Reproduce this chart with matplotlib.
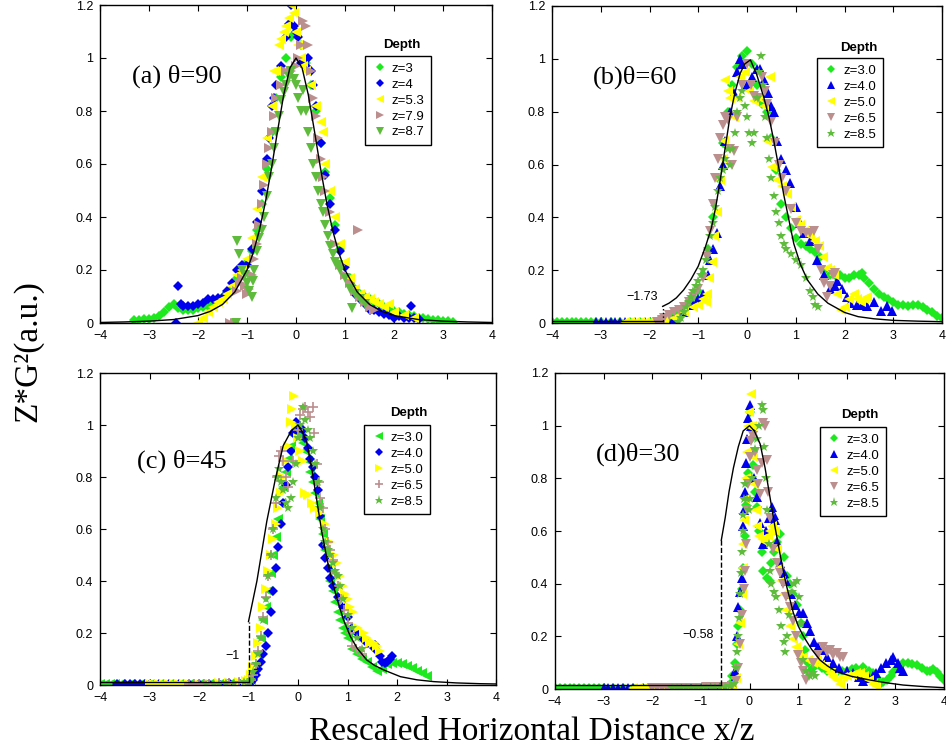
import matplotlib
matplotlib.use("Agg")
import matplotlib.pyplot as plt

plt.rcParams['font.family'] = ['Liberation Sans', 'DejaVu Sans']

# ---------------- ticks / labels ----------------
x_ticks = [-4, -3, -2, -1, 0, 1, 2, 3, 4]
x_tick_labels = ["\u22124", "\u22123", "\u22122", "\u22121", "0", "1", "2", "3", "4"]
y_ticks = [0, 0.2, 0.4, 0.6, 0.8, 1.0, 1.2]
y_tick_labels = ["0", "0.2", "0.4", "0.6", "0.8", "1", "1.2"]

panel_titles = ["(a) \u03b8=90", "(b)\u03b8=60", "(c) \u03b8=45", "(d)\u03b8=30"]
legend_a = ["z=3", "z=4", "z=5.3", "z=7.9", "z=8.7"]
legend_bcd = ["z=3.0", "z=4.0", "z=5.0", "z=6.5", "z=8.5"]
x_label = "Rescaled Horizontal Distance x/z"
y_label = "Z*G\u00b2(a.u.)"

# ---------------- model curves (x, y) ----------------
a_curve = [(-4, 0.002), (-3.5, 0.004), (-3, 0.007), (-2.5, 0.013), (-2, 0.028), (-1.75, 0.044),
           (-1.5, 0.07), (-1.25, 0.117), (-1, 0.2), (-0.875, 0.264), (-0.75, 0.348), (-0.625, 0.455),
           (-0.5, 0.584), (-0.375, 0.726), (-0.25, 0.862), (-0.125, 0.962), (0, 1.0), (0.125, 0.962),
           (0.25, 0.862), (0.375, 0.726), (0.5, 0.584), (0.625, 0.455), (0.75, 0.348), (0.875, 0.264),
           (1, 0.2), (1.25, 0.117), (1.5, 0.07), (1.75, 0.044), (2, 0.028), (2.5, 0.013), (3, 0.007),
           (3.5, 0.004), (4, 0.002)]
b_curve = [(-1.73, 0.063), (-1.6, 0.075), (-1.45, 0.095), (-1.3, 0.125), (-1.15, 0.165), (-1.0, 0.215),
           (-0.85, 0.29), (-0.73, 0.36), (-0.64, 0.44), (-0.55, 0.54), (-0.45, 0.66), (-0.35, 0.78),
           (-0.25, 0.87), (-0.14, 0.945), (-0.05, 0.98), (0.07, 0.996), (0.2, 0.94), (0.34, 0.857),
           (0.45, 0.78), (0.55, 0.69), (0.65, 0.59), (0.76, 0.48), (0.86, 0.39), (0.96, 0.30), (1.1, 0.22),
           (1.24, 0.163), (1.45, 0.11), (1.66, 0.075), (2.0, 0.04), (2.28, 0.024), (2.6, 0.016),
           (3.0, 0.01), (3.5, 0.007), (4.0, 0.005)]
c_curve = [(-1.0, 0.244), (-0.83, 0.4), (-0.63, 0.63), (-0.46, 0.79), (-0.3, 0.92), (-0.13, 0.98),
           (0.0, 1.0), (0.1, 0.97), (0.18, 0.93), (0.28, 0.83), (0.38, 0.71), (0.48, 0.59), (0.59, 0.48),
           (0.69, 0.4), (0.79, 0.33), (0.92, 0.25), (1.06, 0.186), (1.2, 0.14), (1.39, 0.096),
           (1.55, 0.075), (1.73, 0.058), (2.07, 0.032), (2.4, 0.02), (2.74, 0.013), (3.2, 0.008),
           (3.68, 0.005), (4.0, 0.004)]
d_curve = [(-0.58, 0.565), (-0.5, 0.65), (-0.42, 0.75), (-0.33, 0.84), (-0.23, 0.92), (-0.13, 0.98),
           (0.0, 1.0), (0.1, 0.98), (0.22, 0.93), (0.32, 0.84), (0.42, 0.73), (0.52, 0.62), (0.63, 0.51),
           (0.75, 0.4), (0.9, 0.29), (1.0, 0.24), (1.11, 0.2), (1.28, 0.15), (1.45, 0.11), (1.6, 0.088),
           (1.79, 0.066), (2.1, 0.048), (2.48, 0.034), (2.8, 0.024), (3.16, 0.015), (3.6, 0.009),
           (4.0, 0.005)]

# baselines left of the cutoff, and cutoff values: (x, y_bottom, y_top)
b_base = [(-4, 0.008), (-1.73, 0.008)]
c_base = [(-4, 0.01), (-1.0, 0.01)]
d_base = [(-4, 0.015), (-0.58, 0.015)]
b_cut = (-1.73, 0.008, 0.063)
c_cut = (-1.0, 0.01, 0.244)
d_cut = (-0.58, 0.015, 0.565)
cut_labels = ["\u22121.73", "\u22121", "\u22120.58"]

# ---------------- panel (a) data ----------------
a_z3 = [(-3.3, 0.01), (-3.2, 0.01), (-3.1, 0.015), (-3.0, 0.015), (-2.9, 0.02), (-2.8, 0.025), (-2.7, 0.04),
        (-2.6, 0.06), (-2.5, 0.07), (-2.4, 0.055), (-2.3, 0.05), (-2.2, 0.05), (-2.1, 0.05), (-2.0, 0.055),
        (-1.9, 0.06), (-1.8, 0.065), (-1.7, 0.08), (-1.6, 0.09), (-1.5, 0.1), (-1.4, 0.11), (-1.3, 0.13),
        (-1.2, 0.17), (-1.1, 0.21), (-1.0, 0.23), (-0.9, 0.27), (-0.8, 0.35), (-0.7, 0.45), (-0.6, 0.58),
        (-0.5, 0.72), (-0.4, 0.85), (-0.3, 0.93), (-0.2, 1.0), (-0.1, 1.08), (0.0, 1.1), (0.1, 1.05),
        (0.2, 0.98), (0.3, 0.9), (0.4, 0.8), (0.5, 0.68), (0.6, 0.57), (0.7, 0.47), (0.8, 0.37), (0.9, 0.28),
        (1.0, 0.22), (1.1, 0.17), (1.2, 0.13), (1.3, 0.11), (1.4, 0.1), (1.5, 0.09), (1.6, 0.08), (1.7, 0.07),
        (1.8, 0.06), (1.9, 0.05), (2.0, 0.045), (2.1, 0.04), (2.2, 0.035), (2.3, 0.03), (2.4, 0.025),
        (2.5, 0.02), (2.6, 0.02), (2.7, 0.015), (2.8, 0.012), (2.9, 0.01), (3.0, 0.008), (3.1, 0.006),
        (3.2, 0.005)]
a_z4 = [(-2.45, 0.0), (-2.4, 0.14), (-2.35, 0.07), (-2.3, 0.065), (-2.2, 0.065), (-2.1, 0.065), (-2.0, 0.07),
        (-1.9, 0.075), (-1.8, 0.09), (-1.7, 0.09), (-1.6, 0.095), (-1.5, 0.1), (-1.4, 0.12), (-1.3, 0.15),
        (-1.2, 0.2), (-1.1, 0.22), (-1.0, 0.22), (-0.9, 0.28), (-0.8, 0.38), (-0.7, 0.5), (-0.6, 0.62),
        (-0.55, 0.7), (-0.5, 0.82), (-0.45, 0.85), (-0.4, 0.9), (-0.3, 0.97), (-0.2, 1.08), (-0.15, 1.13),
        (-0.1, 1.2), (-0.05, 1.12), (0.0, 1.1), (0.05, 1.08), (0.1, 0.98), (0.2, 0.97), (0.25, 1.0),
        (0.3, 0.95), (0.35, 0.9), (0.4, 0.82), (0.5, 0.68), (0.6, 0.56), (0.7, 0.45), (0.8, 0.35), (0.9, 0.27),
        (1.0, 0.21), (1.1, 0.15), (1.2, 0.11), (1.3, 0.09), (1.4, 0.07), (1.5, 0.05), (1.6, 0.05), (1.7, 0.04),
        (1.8, 0.035), (1.9, 0.03), (2.0, 0.02), (2.1, 0.025), (2.2, 0.02), (2.3, 0.02), (2.35, 0.064),
        (2.4, 0.02), (2.5, 0.015)]
a_z53 = [(-2.0, 0.0), (-1.9, 0.02), (-1.8, 0.04), (-1.7, 0.06), (-1.6, 0.08), (-1.5, 0.09), (-1.4, 0.11),
         (-1.3, 0.14), (-1.2, 0.18), (-1.1, 0.2), (-1.0, 0.24), (-0.9, 0.32), (-0.8, 0.43), (-0.7, 0.55),
         (-0.6, 0.7), (-0.5, 0.82), (-0.45, 0.95), (-0.4, 0.95), (-0.35, 1.05), (-0.3, 1.07), (-0.25, 1.1),
         (-0.2, 1.12), (-0.15, 1.15), (-0.1, 1.2), (-0.05, 1.17), (0.0, 1.1), (0.05, 1.05), (0.1, 1.0),
         (0.15, 0.97), (0.2, 0.95), (0.3, 0.9), (0.4, 0.82), (0.5, 0.76), (0.55, 0.72), (0.6, 0.6), (0.7, 0.5),
         (0.8, 0.4), (0.9, 0.3), (1.0, 0.23), (1.1, 0.17), (1.2, 0.13), (1.3, 0.11), (1.4, 0.1), (1.5, 0.09),
         (1.6, 0.08), (1.7, 0.07), (1.8, 0.06), (1.9, 0.07), (2.0, 0.04), (2.2, 0.03), (2.4, 0.02)]
a_z79 = [(-1.35, 0.0), (-1.25, 0.0), (-1.2, 0.12), (-1.15, 0.15), (-1.1, 0.17), (-1.05, 0.14), (-1.0, 0.11),
         (-0.95, 0.13), (-0.9, 0.18), (-0.85, 0.24), (-0.8, 0.3), (-0.75, 0.37), (-0.7, 0.45), (-0.65, 0.52),
         (-0.6, 0.6), (-0.55, 0.66), (-0.5, 0.72), (-0.45, 0.78), (-0.4, 0.85), (-0.3, 0.9), (-0.2, 0.95),
         (-0.1, 0.95), (0.0, 0.97), (0.05, 1.0), (0.1, 1.05), (0.15, 1.14), (0.2, 1.12), (0.25, 1.05),
         (0.3, 0.95), (0.35, 0.85), (0.4, 0.78), (0.45, 0.7), (0.5, 0.62), (0.55, 0.55), (0.6, 0.5), (0.7, 0.42),
         (0.8, 0.3), (0.9, 0.22), (1.0, 0.18), (1.1, 0.15), (1.2, 0.12), (1.27, 0.35), (1.3, 0.1), (1.4, 0.08),
         (1.5, 0.06), (1.6, 0.05)]
a_z87 = [(-1.23, 0.0), (-1.2, 0.31), (-1.17, 0.26), (-1.1, 0.2), (-1.05, 0.18), (-1.0, 0.15), (-0.95, 0.12),
         (-0.9, 0.1), (-0.87, 0.16), (-0.85, 0.2), (-0.8, 0.27), (-0.75, 0.32), (-0.7, 0.35), (-0.65, 0.4),
         (-0.6, 0.48), (-0.55, 0.55), (-0.5, 0.6), (-0.45, 0.66), (-0.4, 0.72), (-0.35, 0.78), (-0.3, 0.84),
         (-0.25, 0.87), (-0.2, 0.9), (-0.15, 0.93), (-0.1, 0.95), (-0.05, 0.92), (0.0, 0.9), (0.05, 0.85),
         (0.1, 0.8), (0.15, 0.88), (0.2, 0.8), (0.25, 0.72), (0.3, 0.66), (0.35, 0.6), (0.4, 0.55), (0.45, 0.5),
         (0.5, 0.45), (0.55, 0.42), (0.6, 0.37), (0.65, 0.33), (0.7, 0.29), (0.75, 0.26), (0.8, 0.23),
         (0.85, 0.22), (0.9, 0.2), (1.0, 0.17), (1.1, 0.13), (1.14, 0.055), (1.2, 0.11), (1.3, 0.09), (1.4, 0.07)]

# ---------------- panel (b) data ----------------
b_z3 = [(-4.0, 0.005), (-3.9, 0.005), (-3.8, 0.005), (-3.7, 0.005), (-3.6, 0.005), (-3.5, 0.005), (-3.4, 0.005),
        (-3.3, 0.005), (-3.2, 0.005), (-3.1, 0.005), (-3.0, 0.005), (-2.8, 0.005), (-2.6, 0.005), (-2.4, 0.005),
        (-2.2, 0.005), (-2.0, 0.005), (-1.8, 0.01), (-1.6, 0.02), (-1.5, 0.03), (-1.4, 0.045), (-1.3, 0.06),
        (-1.2, 0.08), (-1.1, 0.1), (-1.0, 0.12), (-0.9, 0.18), (-0.8, 0.28), (-0.7, 0.4), (-0.6, 0.55),
        (-0.5, 0.68), (-0.4, 0.8), (-0.3, 0.9), (-0.2, 0.97), (-0.1, 1.01), (0.0, 1.03), (0.1, 0.98),
        (0.2, 0.9), (0.3, 0.83), (0.4, 0.8), (0.5, 0.7), (0.6, 0.58), (0.7, 0.45), (0.8, 0.4), (0.9, 0.36),
        (1.0, 0.32), (1.1, 0.3), (1.2, 0.29), (1.3, 0.28), (1.4, 0.27), (1.5, 0.25), (1.6, 0.2), (1.7, 0.18),
        (1.8, 0.18), (1.9, 0.18), (2.0, 0.17), (2.1, 0.17), (2.2, 0.18), (2.3, 0.18), (2.35, 0.19), (2.4, 0.17),
        (2.5, 0.15), (2.6, 0.13), (2.7, 0.11), (2.8, 0.1), (2.9, 0.09), (3.0, 0.08), (3.1, 0.07), (3.2, 0.07),
        (3.3, 0.065), (3.4, 0.07), (3.5, 0.07), (3.6, 0.06), (3.7, 0.05), (3.8, 0.04), (3.9, 0.025), (4.0, 0.02)]
b_z4 = [(-3.1, 0.005), (-3.0, 0.005), (-2.9, 0.005), (-2.8, 0.005), (-2.7, 0.005), (-2.6, 0.005), (-2.5, 0.005),
        (-2.3, 0.005), (-2.1, 0.005), (-1.9, 0.005), (-1.7, 0.01), (-1.5, 0.02), (-1.3, 0.04), (-1.1, 0.07),
        (-1.0, 0.09), (-0.9, 0.11), (-0.8, 0.18), (-0.75, 0.24), (-0.7, 0.28), (-0.62, 0.34), (-0.55, 0.52),
        (-0.5, 0.6), (-0.45, 0.69), (-0.35, 0.8), (-0.27, 0.87), (-0.2, 0.95), (-0.14, 1.0), (-0.1, 0.98),
        (0.0, 0.9), (0.1, 0.93), (0.2, 0.96), (0.26, 0.96), (0.34, 0.92), (0.43, 0.87), (0.5, 0.82),
        (0.55, 0.8), (0.62, 0.69), (0.7, 0.62), (0.79, 0.58), (0.89, 0.53), (1.0, 0.44), (1.08, 0.38),
        (1.16, 0.34), (1.3, 0.31), (1.44, 0.24), (1.58, 0.18), (1.71, 0.13), (1.8, 0.14), (1.85, 0.16),
        (1.95, 0.13), (2.05, 0.1), (2.12, 0.076), (2.26, 0.07), (2.35, 0.07), (2.47, 0.063), (2.6, 0.08),
        (2.74, 0.044), (2.88, 0.063), (2.98, 0.044)]
b_z5 = [(-2.5, 0.005), (-2.4, 0.005), (-2.3, 0.005), (-2.2, 0.005), (-2.1, 0.005), (-2.0, 0.005), (-1.9, 0.005),
        (-1.7, 0.01), (-1.5, 0.02), (-1.3, 0.04), (-1.1, 0.06), (-1.0, 0.07), (-0.9, 0.09), (-0.85, 0.08),
        (-0.82, 0.11), (-0.78, 0.17), (-0.72, 0.23), (-0.67, 0.33), (-0.62, 0.42), (-0.55, 0.54), (-0.5, 0.62),
        (-0.48, 0.69), (-0.45, 0.92), (-0.4, 0.88), (-0.35, 0.85), (-0.27, 0.78), (-0.2, 0.85), (-0.14, 0.93),
        (-0.05, 0.95), (0.05, 0.88), (0.14, 0.84), (0.25, 0.85), (0.34, 0.82), (0.41, 0.69), (0.48, 0.93),
        (0.51, 0.59), (0.62, 0.54), (0.72, 0.52), (0.82, 0.49), (0.9, 0.44), (1.0, 0.39), (1.08, 0.37),
        (1.16, 0.35), (1.3, 0.33), (1.4, 0.31), (1.47, 0.29), (1.55, 0.25), (1.64, 0.21), (1.7, 0.2),
        (1.78, 0.18), (1.85, 0.11), (1.92, 0.05), (2.02, 0.06), (2.1, 0.09), (2.19, 0.11), (2.26, 0.09),
        (2.33, 0.08), (2.4, 0.09), (2.47, 0.1)]
b_z65 = [(-1.85, 0.005), (-1.8, 0.005), (-1.75, 0.01), (-1.7, 0.02), (-1.6, 0.03), (-1.5, 0.04), (-1.4, 0.05),
         (-1.3, 0.06), (-1.2, 0.08), (-1.1, 0.1), (-1.0, 0.13), (-0.9, 0.17), (-0.82, 0.25), (-0.76, 0.35),
         (-0.7, 0.45), (-0.65, 0.55), (-0.6, 0.62), (-0.55, 0.7), (-0.5, 0.75), (-0.45, 0.78), (-0.4, 0.77),
         (-0.35, 0.66), (-0.3, 0.6), (-0.27, 0.65), (-0.2, 0.78), (-0.1, 0.9), (0.0, 0.98), (0.08, 0.9),
         (0.15, 0.86), (0.22, 0.85), (0.3, 0.93), (0.36, 0.88), (0.42, 0.83), (0.5, 0.76), (0.58, 0.68),
         (0.65, 0.6), (0.72, 0.55), (0.8, 0.5), (0.9, 0.43), (1.0, 0.38), (1.1, 0.35), (1.2, 0.34), (1.3, 0.34),
         (1.37, 0.35), (1.45, 0.28), (1.52, 0.2), (1.58, 0.15), (1.64, 0.1), (1.7, 0.14), (1.76, 0.18),
         (1.81, 0.19)]
b_z85 = [(-1.41, 0.005), (-1.35, 0.02), (-1.3, 0.04), (-1.25, 0.06), (-1.2, 0.08), (-1.15, 0.1), (-1.1, 0.12),
         (-1.05, 0.14), (-1.0, 0.16), (-0.95, 0.18), (-0.9, 0.2), (-0.85, 0.24), (-0.8, 0.28), (-0.75, 0.33),
         (-0.7, 0.38), (-0.65, 0.44), (-0.6, 0.5), (-0.55, 0.55), (-0.5, 0.58), (-0.45, 0.62), (-0.4, 0.66),
         (-0.35, 0.6), (-0.3, 0.66), (-0.25, 0.72), (-0.2, 0.8), (-0.15, 0.85), (-0.1, 0.88), (-0.05, 0.82),
         (0.0, 0.78), (0.05, 0.72), (0.1, 0.68), (0.15, 0.72), (0.2, 0.85), (0.25, 0.95), (0.28, 1.01),
         (0.32, 0.9), (0.36, 0.78), (0.4, 0.7), (0.45, 0.62), (0.5, 0.55), (0.55, 0.48), (0.6, 0.42),
         (0.65, 0.38), (0.7, 0.33), (0.75, 0.3), (0.8, 0.28), (0.9, 0.26), (1.0, 0.24), (1.1, 0.22),
         (1.2, 0.17), (1.3, 0.12), (1.35, 0.1), (1.4, 0.07), (1.45, 0.06)]

# ---------------- panel (c) data ----------------
c_z3 = [(-4.0, 0.005), (-3.9, 0.005), (-3.8, 0.005), (-3.7, 0.005), (-3.6, 0.005), (-3.4, 0.005), (-3.2, 0.005),
        (-3.0, 0.005), (-2.8, 0.005), (-2.6, 0.005), (-2.4, 0.005), (-2.2, 0.005), (-2.0, 0.005), (-1.8, 0.005),
        (-1.6, 0.005), (-1.4, 0.005), (-1.2, 0.008), (-1.0, 0.01), (-0.95, 0.02), (-0.9, 0.04), (-0.85, 0.07),
        (-0.8, 0.12), (-0.75, 0.18), (-0.7, 0.25), (-0.65, 0.3), (-0.6, 0.36), (-0.55, 0.43), (-0.5, 0.5),
        (-0.45, 0.57), (-0.4, 0.64), (-0.35, 0.7), (-0.3, 0.76), (-0.25, 0.82), (-0.2, 0.87), (-0.15, 0.92),
        (-0.1, 0.96), (-0.05, 0.98), (0.0, 0.97), (0.05, 0.95), (0.1, 0.93), (0.15, 0.9), (0.2, 0.86),
        (0.25, 0.82), (0.3, 0.78), (0.35, 0.74), (0.4, 0.7), (0.45, 0.64), (0.5, 0.58), (0.55, 0.52),
        (0.6, 0.45), (0.65, 0.4), (0.7, 0.36), (0.75, 0.32), (0.8, 0.28), (0.85, 0.25), (0.9, 0.22),
        (0.95, 0.2), (1.0, 0.18), (1.1, 0.14), (1.2, 0.12), (1.3, 0.1), (1.4, 0.09), (1.5, 0.07), (1.6, 0.055),
        (1.7, 0.06), (1.8, 0.08), (1.9, 0.085), (2.0, 0.085), (2.1, 0.08), (2.2, 0.075), (2.3, 0.065),
        (2.4, 0.055), (2.5, 0.045), (2.6, 0.035)]
c_z4 = [(-3.66, 0.005), (-3.5, 0.005), (-3.4, 0.005), (-3.3, 0.005), (-3.2, 0.005), (-3.1, 0.005), (-3.0, 0.005),
        (-2.8, 0.005), (-2.6, 0.005), (-2.4, 0.005), (-2.2, 0.005), (-2.0, 0.005), (-1.8, 0.005), (-1.6, 0.005),
        (-1.4, 0.006), (-1.2, 0.008), (-1.0, 0.01), (-0.95, 0.01), (-0.9, 0.02), (-0.85, 0.04), (-0.8, 0.06),
        (-0.75, 0.09), (-0.7, 0.12), (-0.65, 0.15), (-0.6, 0.2), (-0.55, 0.28), (-0.5, 0.36), (-0.45, 0.45),
        (-0.4, 0.53), (-0.35, 0.62), (-0.3, 0.7), (-0.25, 0.77), (-0.2, 0.84), (-0.15, 0.9), (-0.1, 0.97),
        (-0.05, 1.01), (0.0, 1.0), (0.05, 0.99), (0.1, 0.98), (0.15, 0.95), (0.2, 0.91), (0.25, 0.87),
        (0.3, 0.84), (0.35, 0.8), (0.4, 0.75), (0.45, 0.65), (0.5, 0.54), (0.55, 0.49), (0.6, 0.45),
        (0.65, 0.41), (0.7, 0.38), (0.8, 0.34), (0.9, 0.3), (1.0, 0.26), (1.1, 0.22), (1.2, 0.2), (1.3, 0.18),
        (1.4, 0.16), (1.5, 0.15), (1.55, 0.155), (1.6, 0.13), (1.65, 0.11), (1.7, 0.09), (1.75, 0.085),
        (1.8, 0.09), (1.85, 0.1), (1.9, 0.11)]
c_z5 = [(-3.0, 0.005), (-2.9, 0.005), (-2.8, 0.005), (-2.7, 0.005), (-2.6, 0.005), (-2.5, 0.005), (-2.4, 0.005),
        (-2.3, 0.005), (-2.2, 0.005), (-2.0, 0.005), (-1.8, 0.005), (-1.6, 0.006), (-1.4, 0.008), (-1.2, 0.01),
        (-1.05, 0.015), (-1.0, 0.02), (-0.95, 0.04), (-0.9, 0.07), (-0.85, 0.11), (-0.8, 0.16), (-0.75, 0.22),
        (-0.7, 0.3), (-0.65, 0.37), (-0.6, 0.44), (-0.55, 0.5), (-0.5, 0.56), (-0.45, 0.62), (-0.4, 0.68),
        (-0.35, 0.74), (-0.3, 0.8), (-0.25, 0.86), (-0.2, 0.92), (-0.15, 1.01), (-0.12, 1.06), (-0.09, 1.11),
        (-0.05, 1.0), (0.0, 0.95), (0.05, 0.9), (0.11, 0.86), (0.15, 0.74), (0.2, 0.73), (0.28, 0.7),
        (0.35, 0.68), (0.45, 0.66), (0.55, 0.62), (0.65, 0.55), (0.72, 0.5), (0.79, 0.47), (0.85, 0.42),
        (0.9, 0.38), (0.95, 0.35), (1.0, 0.33), (1.06, 0.3), (1.12, 0.28), (1.22, 0.22), (1.33, 0.2),
        (1.4, 0.18), (1.46, 0.16), (1.53, 0.16), (1.6, 0.15), (1.65, 0.13)]
c_z65 = [(-2.2, 0.005), (-2.1, 0.005), (-2.0, 0.005), (-1.9, 0.005), (-1.8, 0.005), (-1.6, 0.006), (-1.4, 0.008),
         (-1.2, 0.01), (-1.0, 0.015), (-0.95, 0.02), (-0.9, 0.04), (-0.85, 0.08), (-0.8, 0.13), (-0.75, 0.19),
         (-0.7, 0.26), (-0.65, 0.34), (-0.6, 0.42), (-0.55, 0.5), (-0.5, 0.6), (-0.45, 0.7), (-0.42, 0.8),
         (-0.38, 0.88), (-0.34, 0.9), (-0.3, 0.86), (-0.25, 0.8), (-0.2, 0.76), (-0.1, 0.86), (0.0, 0.98),
         (0.05, 1.04), (0.1, 1.06), (0.15, 1.07), (0.2, 1.05), (0.25, 1.03), (0.3, 1.07), (0.33, 0.97),
         (0.38, 0.85), (0.42, 0.78), (0.45, 0.72), (0.5, 0.68), (0.55, 0.6), (0.6, 0.55), (0.65, 0.52),
         (0.7, 0.48), (0.75, 0.43), (0.8, 0.38), (0.86, 0.33), (0.92, 0.29), (1.0, 0.24), (1.05, 0.2),
         (1.1, 0.15), (1.18, 0.14), (1.26, 0.13), (1.3, 0.12)]
c_z85 = [(-1.85, 0.005), (-1.7, 0.005), (-1.6, 0.005), (-1.45, 0.006), (-1.3, 0.008), (-1.1, 0.01), (-1.0, 0.01),
         (-0.95, 0.02), (-0.9, 0.05), (-0.85, 0.08), (-0.8, 0.12), (-0.75, 0.18), (-0.7, 0.25), (-0.65, 0.33),
         (-0.6, 0.42), (-0.55, 0.5), (-0.5, 0.6), (-0.45, 0.72), (-0.42, 0.8), (-0.38, 0.83), (-0.35, 0.78),
         (-0.3, 0.75), (-0.25, 0.7), (-0.2, 0.68), (-0.15, 0.72), (-0.1, 0.78), (-0.05, 0.85), (0.0, 0.95),
         (0.05, 1.0), (0.1, 1.07), (0.15, 1.02), (0.2, 0.98), (0.25, 0.95), (0.3, 0.9), (0.35, 0.85),
         (0.4, 0.78), (0.45, 0.68), (0.5, 0.6), (0.55, 0.55), (0.6, 0.52), (0.65, 0.5), (0.7, 0.47),
         (0.75, 0.44), (0.8, 0.42), (0.85, 0.38), (0.9, 0.33), (1.0, 0.27), (1.1, 0.22), (1.2, 0.18),
         (1.3, 0.14)]

# ---------------- panel (d) data ----------------
d_z3 = [(-4.0, 0.004), (-3.9, 0.004), (-3.8, 0.004), (-3.7, 0.004), (-3.6, 0.004), (-3.5, 0.004), (-3.4, 0.004),
        (-3.3, 0.004), (-3.2, 0.004), (-3.1, 0.004), (-3.0, 0.004), (-2.8, 0.004), (-2.6, 0.004), (-2.4, 0.004),
        (-2.2, 0.004), (-2.0, 0.004), (-1.8, 0.004), (-1.6, 0.004), (-1.4, 0.004), (-1.2, 0.004), (-1.0, 0.004),
        (-0.8, 0.005), (-0.6, 0.006), (-0.45, 0.01), (-0.4, 0.02), (-0.35, 0.05), (-0.3, 0.1), (-0.26, 0.17),
        (-0.23, 0.24), (-0.2, 0.3), (-0.16, 0.38), (-0.13, 0.46), (-0.1, 0.58), (-0.07, 0.7), (-0.04, 0.82),
        (0.0, 1.05), (0.04, 0.95), (0.08, 0.85), (0.12, 0.75), (0.15, 0.69), (0.2, 0.6), (0.25, 0.52),
        (0.28, 0.45), (0.35, 0.42), (0.42, 0.41), (0.45, 0.48), (0.5, 0.52), (0.56, 0.56), (0.63, 0.59),
        (0.7, 0.5), (0.77, 0.43), (0.83, 0.4), (0.9, 0.36), (0.97, 0.32), (1.05, 0.25), (1.1, 0.2),
        (1.15, 0.15), (1.2, 0.1), (1.25, 0.07), (1.3, 0.08), (1.4, 0.1), (1.5, 0.08), (1.6, 0.07),
        (1.7, 0.065), (1.8, 0.065), (1.9, 0.07), (2.0, 0.07), (2.1, 0.075), (2.2, 0.08), (2.34, 0.085),
        (2.45, 0.07), (2.55, 0.06), (2.62, 0.04), (2.68, 0.02), (2.75, 0.025), (2.82, 0.035), (2.9, 0.05),
        (2.96, 0.066), (3.05, 0.08), (3.16, 0.1), (3.25, 0.1), (3.35, 0.095), (3.44, 0.09), (3.55, 0.08),
        (3.65, 0.07), (3.71, 0.07), (3.78, 0.075), (3.85, 0.066), (3.92, 0.05), (3.99, 0.034)]
d_z4 = [(-3.0, 0.004), (-2.9, 0.004), (-2.8, 0.004), (-2.7, 0.004), (-2.6, 0.004), (-2.5, 0.004), (-2.4, 0.004),
        (-2.2, 0.004), (-2.0, 0.004), (-1.8, 0.004), (-1.6, 0.004), (-1.4, 0.004), (-1.2, 0.004), (-1.0, 0.005),
        (-0.8, 0.006), (-0.6, 0.008), (-0.45, 0.01), (-0.35, 0.02), (-0.3, 0.07), (-0.26, 0.2), (-0.23, 0.31),
        (-0.19, 0.37), (-0.16, 0.42), (-0.13, 0.62), (-0.11, 0.68), (-0.09, 0.75), (-0.08, 0.86), (-0.06, 0.95),
        (-0.04, 1.03), (0.01, 1.08), (0.04, 1.0), (0.07, 0.9), (0.1, 0.8), (0.15, 0.73), (0.22, 0.63),
        (0.28, 0.55), (0.34, 0.6), (0.4, 0.65), (0.46, 0.69), (0.5, 0.66), (0.52, 0.64), (0.57, 0.56),
        (0.63, 0.48), (0.7, 0.44), (0.76, 0.41), (0.85, 0.36), (0.94, 0.32), (1.02, 0.29), (1.11, 0.29),
        (1.18, 0.25), (1.24, 0.22), (1.32, 0.18), (1.4, 0.16), (1.52, 0.15), (1.6, 0.12), (1.72, 0.1),
        (1.85, 0.08), (2.0, 0.07), (2.13, 0.06), (2.25, 0.045), (2.34, 0.03), (2.45, 0.04), (2.55, 0.05),
        (2.61, 0.06), (2.7, 0.08), (2.8, 0.1), (2.9, 0.11), (2.96, 0.12), (3.05, 0.1), (3.1, 0.08), (3.16, 0.07)]
d_z5 = [(-2.4, 0.004), (-2.3, 0.004), (-2.2, 0.004), (-2.1, 0.004), (-2.0, 0.004), (-1.9, 0.004), (-1.8, 0.004),
        (-1.6, 0.004), (-1.4, 0.004), (-1.2, 0.004), (-1.0, 0.005), (-0.8, 0.006), (-0.6, 0.007), (-0.45, 0.008),
        (-0.35, 0.01), (-0.28, 0.04), (-0.23, 0.17), (-0.2, 0.25), (-0.16, 0.36), (-0.14, 0.46), (-0.13, 0.55),
        (-0.11, 0.64), (-0.09, 0.72), (-0.07, 0.8), (-0.05, 0.9), (-0.04, 1.0), (-0.02, 1.05), (0.04, 1.12),
        (0.06, 1.0), (0.08, 0.88), (0.1, 0.78), (0.13, 0.68), (0.15, 0.62), (0.2, 0.58), (0.26, 0.57),
        (0.32, 0.56), (0.38, 0.58), (0.42, 0.6), (0.47, 0.62), (0.52, 0.6), (0.56, 0.53), (0.6, 0.46),
        (0.65, 0.41), (0.7, 0.36), (0.76, 0.3), (0.83, 0.24), (0.9, 0.19), (0.95, 0.16), (1.0, 0.14),
        (1.1, 0.12), (1.2, 0.11), (1.3, 0.1), (1.38, 0.11), (1.45, 0.09), (1.55, 0.08), (1.65, 0.06),
        (1.72, 0.045), (1.79, 0.034), (1.86, 0.02), (1.93, 0.047), (2.0, 0.05), (2.1, 0.055), (2.2, 0.06),
        (2.27, 0.06), (2.35, 0.05), (2.45, 0.035), (2.55, 0.02), (2.6, 0.01)]
d_z65 = [(-2.0, 0.004), (-1.9, 0.004), (-1.8, 0.004), (-1.7, 0.004), (-1.6, 0.004), (-1.5, 0.004), (-1.3, 0.004),
         (-1.1, 0.005), (-0.9, 0.006), (-0.7, 0.007), (-0.5, 0.008), (-0.35, 0.01), (-0.28, 0.03), (-0.23, 0.08),
         (-0.19, 0.17), (-0.15, 0.28), (-0.12, 0.38), (-0.1, 0.45), (-0.08, 0.55), (-0.05, 0.68), (-0.03, 0.78),
         (0.0, 0.88), (0.04, 0.94), (0.08, 0.96), (0.12, 0.9), (0.15, 0.83), (0.18, 0.78), (0.22, 0.74),
         (0.25, 0.86), (0.28, 1.01), (0.31, 1.0), (0.35, 0.87), (0.39, 0.75), (0.43, 0.65), (0.49, 0.53),
         (0.56, 0.48), (0.62, 0.44), (0.68, 0.4), (0.75, 0.35), (0.83, 0.31), (0.9, 0.26), (0.95, 0.2),
         (1.0, 0.13), (1.05, 0.1), (1.1, 0.07), (1.17, 0.034), (1.22, 0.05), (1.3, 0.1), (1.4, 0.13),
         (1.52, 0.16), (1.6, 0.14), (1.66, 0.15), (1.72, 0.13), (1.79, 0.135), (1.86, 0.12), (1.93, 0.12)]
d_z85 = [(-1.6, 0.004), (-1.5, 0.004), (-1.4, 0.004), (-1.3, 0.004), (-1.2, 0.004), (-1.1, 0.004), (-1.0, 0.005),
         (-0.9, 0.005), (-0.8, 0.006), (-0.7, 0.006), (-0.6, 0.007), (-0.5, 0.008), (-0.4, 0.01), (-0.32, 0.02),
         (-0.28, 0.08), (-0.26, 0.14), (-0.24, 0.2), (-0.22, 0.27), (-0.2, 0.36), (-0.18, 0.44), (-0.16, 0.52),
         (-0.14, 0.6), (-0.13, 0.66), (-0.12, 0.72), (-0.1, 0.78), (-0.06, 0.72), (-0.02, 0.68), (0.02, 0.72),
         (0.06, 0.8), (0.11, 0.91), (0.15, 0.95), (0.2, 1.0), (0.25, 1.08), (0.27, 1.06), (0.3, 0.92),
         (0.33, 0.8), (0.36, 0.68), (0.4, 0.55), (0.42, 0.45), (0.45, 0.4), (0.5, 0.37), (0.55, 0.35),
         (0.6, 0.3), (0.65, 0.24), (0.7, 0.18), (0.74, 0.14), (0.78, 0.2), (0.82, 0.28), (0.87, 0.37),
         (0.92, 0.4), (0.97, 0.41), (1.02, 0.35), (1.06, 0.25), (1.1, 0.11), (1.17, 0.07), (1.24, 0.05),
         (1.3, 0.06), (1.35, 0.05)]

# ---------------- styles ----------------
colors = ["#1ee81e", "#0000ee", "#ffff00", "#bc8f8f", "#5fbb3c"]
a_markers = ["D", "D", "<", ">", "v"]
b_markers = ["D", "^", "<", "v", "*"]
c_markers = ["<", "D", ">", "+", "*"]
d_markers = ["D", "^", "<", "v", "*"]
msize = {"D": 4.8, "^": 6.5, "<": 6.5, ">": 6.5, "v": 6.5, "*": 7.5, "+": 6.5}
leg_msize = {"D": 4.0, "^": 5.5, "<": 5.5, ">": 5.5, "v": 5.5, "*": 6.5, "+": 5.5}

W, H = 946.0, 750.0


def rect(l, t, r, b):
    return [l / W, 1 - b / H, (r - l) / W, (b - t) / H]


panels = [
    dict(rect=rect(100, 5, 492, 323), series=[a_z3, a_z4, a_z53, a_z79, a_z87], markers=a_markers,
         labels=legend_a, curve=a_curve, base=None, cut=None, cut_label=None, cut_lpos=None,
         title=panel_titles[0], tpos=(-3.35, 0.93), leg=(0.676, 0.840), depth=(0.770, 0.874)),
    dict(rect=rect(552, 6, 942, 323), series=[b_z3, b_z4, b_z5, b_z65, b_z85], markers=b_markers,
         labels=legend_bcd, curve=b_curve, base=b_base, cut=b_cut, cut_label=cut_labels[0],
         cut_lpos=(-2.16, 0.1), cut_ls=":", title=panel_titles[1], tpos=(-3.16, 0.93),
         leg=(0.679, 0.836), depth=(0.787, 0.868)),
    dict(rect=rect(100, 373, 496, 685), series=[c_z3, c_z4, c_z5, c_z65, c_z85], markers=c_markers,
         labels=legend_bcd, curve=c_curve, base=c_base, cut=c_cut, cut_label=cut_labels[1],
         cut_lpos=(-1.33, 0.11), cut_ls="--", title=panel_titles[2], tpos=(-3.25, 0.86),
         leg=(0.667, 0.833), depth=(0.780, 0.872)),
    dict(rect=rect(555, 373, 944, 689), series=[d_z3, d_z4, d_z5, d_z65, d_z85], markers=d_markers,
         labels=legend_bcd, curve=d_curve, base=d_base, cut=d_cut, cut_label=cut_labels[2],
         cut_lpos=(-1.05, 0.205), cut_ls="--", title=panel_titles[3], tpos=(-3.16, 0.89),
         leg=(0.681, 0.829), depth=(0.784, 0.867)),
]

fig = plt.figure(figsize=(9.46, 7.5), dpi=100)

for p in panels:
    ax = fig.add_axes(p["rect"])
    handles = []
    for pts, mk, col, lab in zip(p["series"], p["markers"], colors, p["labels"]):
        xs = [q[0] for q in pts]
        ys = [q[1] for q in pts]
        mew = 1.2 if mk == "+" else 0
        ax.plot(xs, ys, linestyle="none", marker=mk, ms=msize[mk], mew=mew,
                color=col, zorder=2, clip_on=True)
        h, = ax.plot([], [], linestyle="none", marker=mk, ms=leg_msize[mk], mew=mew,
                     color=col, label=lab)
        handles.append(h)
    cx = [q[0] for q in p["curve"]]
    cy = [q[1] for q in p["curve"]]
    ax.plot(cx, cy, color="black", lw=1.0, zorder=3)
    if p["base"] is not None:
        ax.plot([q[0] for q in p["base"]], [q[1] for q in p["base"]], color="black", lw=1.0, zorder=3)
        xc, y0, y1 = p["cut"]
        ax.plot([xc, xc], [y0, y1], color="black", lw=1.0, linestyle=p["cut_ls"], zorder=3)
        ax.text(p["cut_lpos"][0], p["cut_lpos"][1], p["cut_label"], fontsize=9, ha="center",
                va="center", color="black")

    ax.text(p["tpos"][0], p["tpos"][1], p["title"], fontsize=19, family=["Liberation Serif", "DejaVu Serif"],
            ha="left", va="center")

    ax.set_xlim(-4, 4)
    ax.set_ylim(0, 1.2)
    ax.set_xticks(x_ticks)
    ax.set_xticklabels(x_tick_labels)
    ax.set_yticks(y_ticks)
    ax.set_yticklabels(y_tick_labels)
    ax.tick_params(direction="in", top=True, right=True, length=4, width=0.8, labelsize=9, pad=5)
    for s in ax.spines.values():
        s.set_linewidth(1.0)

    leg = ax.legend(handles=handles, loc="upper left", bbox_to_anchor=p["leg"], frameon=True,
                    fancybox=False, edgecolor="black", framealpha=1, fontsize=9.5, handlelength=1.2,
                    handletextpad=0.3, labelspacing=0.28, borderpad=0.5, borderaxespad=0, numpoints=1)
    leg.get_frame().set_linewidth(1.0)
    ax.text(p["depth"][0], p["depth"][1], "Depth", transform=ax.transAxes, ha="center", va="center",
            fontsize=9.5, fontweight="bold")

fig.text(0.5625, 0.024, x_label, ha="center", va="center", fontsize=24,
         family=["Liberation Serif", "DejaVu Serif"])
fig.text(0.03, 0.532, y_label, ha="center", va="center", rotation=90, fontsize=24,
         family=["Liberation Serif", "DejaVu Serif"])

fig.savefig("out.png", dpi=100)
